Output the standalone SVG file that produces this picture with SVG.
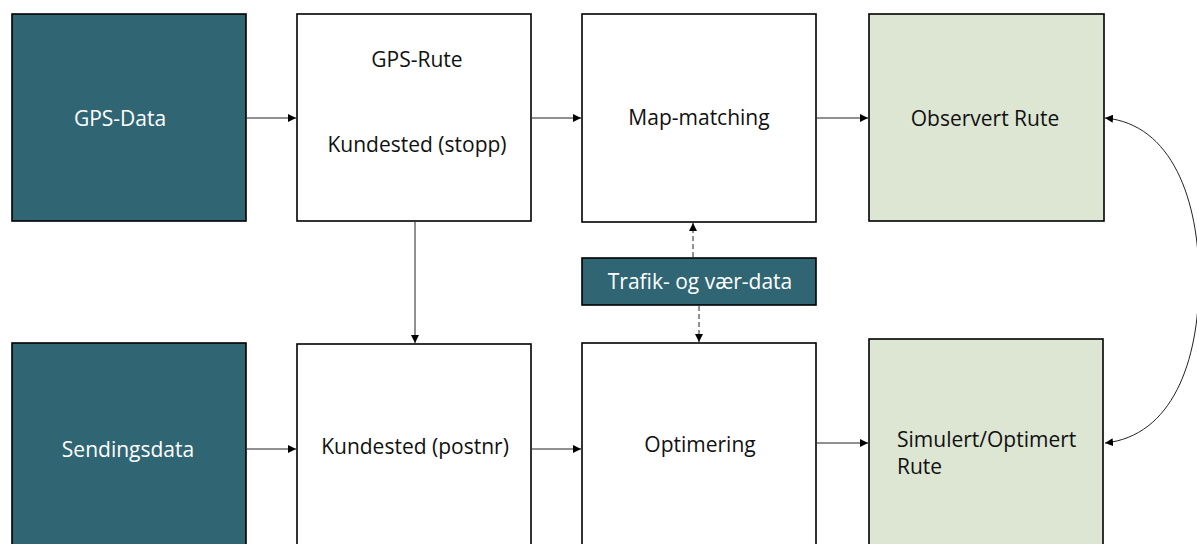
<svg xmlns="http://www.w3.org/2000/svg" width="1197" height="544" viewBox="0 0 1197 544">
  <style>
    .box { stroke: #000; stroke-width: 1.6; }
    .dark { fill: #306674; }
    .white { fill: #fff; }
    .green { fill: #dde6d3; }
    .lbl { font-family: "Open Sans", "Noto Sans", sans-serif; font-size: 21px; fill: #111; }
    .lbl-w { fill: #fff; }
    .mid { text-anchor: middle; }
    .conn { fill: none; stroke: #222; stroke-width: 1; }
    .dash { stroke-dasharray: 5 3; }
  </style>
  <defs>
    <marker id="arrow" viewBox="0 0 10 10" refX="10" refY="5" markerWidth="8" markerHeight="8" markerUnits="userSpaceOnUse" orient="auto-start-reverse">
      <path d="M0,0 L10,5 L0,10 z" fill="#000"/>
    </marker>
  </defs>

  <g id="gps-data">
    <rect class="box dark" x="12" y="14" width="234" height="207"/>
    <text class="lbl lbl-w mid" x="120" y="126">GPS-Data</text>
  </g>
  <g id="gps-rute">
    <rect class="box white" x="297" y="14" width="234" height="207"/>
    <text class="lbl mid" x="417" y="67">GPS-Rute</text>
    <text class="lbl mid" x="417" y="152">Kundested (stopp)</text>
  </g>
  <g id="map-matching">
    <rect class="box white" x="582" y="14" width="234" height="208"/>
    <text class="lbl mid" x="699" y="125">Map-matching</text>
  </g>
  <g id="observert-rute">
    <rect class="box green" x="869" y="14" width="235" height="207"/>
    <text class="lbl mid" x="985" y="126">Observert Rute</text>
  </g>
  <g id="trafikk">
    <rect class="box dark" x="582" y="258" width="234" height="47"/>
    <text class="lbl lbl-w mid" x="700" y="289">Trafik- og vær-data</text>
  </g>
  <g id="sendingsdata">
    <rect class="box dark" x="12" y="343" width="234" height="210"/>
    <text class="lbl lbl-w mid" x="128" y="457">Sendingsdata</text>
  </g>
  <g id="kundested-postnr">
    <rect class="box white" x="297" y="344" width="234" height="210"/>
    <text class="lbl mid" x="415" y="454">Kundested (postnr)</text>
  </g>
  <g id="optimering">
    <rect class="box white" x="582" y="343" width="234" height="210"/>
    <text class="lbl mid" x="700" y="452">Optimering</text>
  </g>
  <g id="simulert-rute">
    <rect class="box green" x="869" y="339" width="234" height="214"/>
    <text class="lbl" x="897" y="447">Simulert/Optimert</text>
    <text class="lbl" x="897" y="474">Rute</text>
  </g>

  <g id="connectors">
    <line class="conn" x1="247" y1="118" x2="296" y2="118" marker-end="url(#arrow)"/>
    <line class="conn" x1="532" y1="118" x2="581" y2="118" marker-end="url(#arrow)"/>
    <line class="conn" x1="817" y1="118" x2="868" y2="118" marker-end="url(#arrow)"/>
    <line class="conn" x1="415" y1="222" x2="415" y2="343" marker-end="url(#arrow)"/>
    <line class="conn" x1="247" y1="449" x2="296" y2="449" marker-end="url(#arrow)"/>
    <line class="conn" x1="532" y1="449" x2="581" y2="449" marker-end="url(#arrow)"/>
    <line class="conn" x1="817" y1="443" x2="868" y2="443" marker-end="url(#arrow)"/>
    <line class="conn dash" x1="693" y1="257" x2="693" y2="223" marker-end="url(#arrow)"/>
    <line class="conn dash" x1="699" y1="306" x2="699" y2="342" marker-end="url(#arrow)"/>
    <path class="conn" d="M1105,118 C1172,124 1199,200 1199,280 C1199,362 1172,436 1105,443" marker-start="url(#arrow)" marker-end="url(#arrow)"/>
  </g>
</svg>
